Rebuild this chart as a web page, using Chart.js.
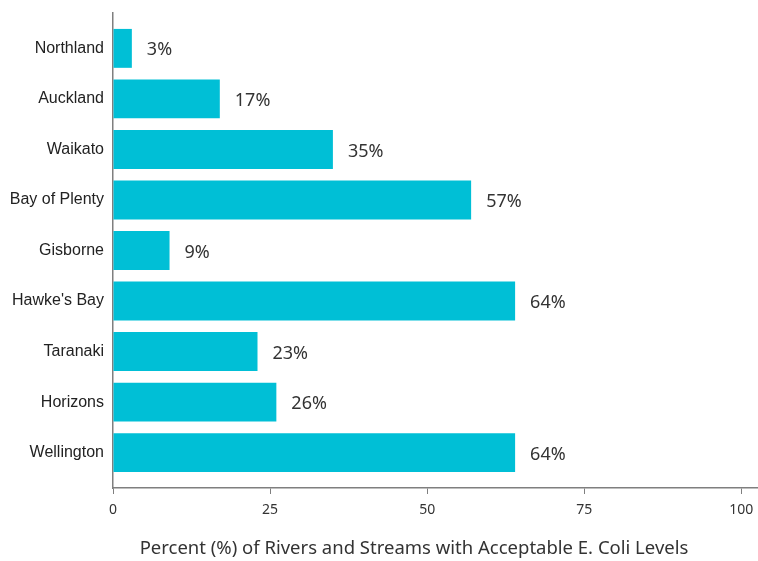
<!DOCTYPE html>
<html>
<head>
<meta charset="utf-8">
<script src="https://cdn.jsdelivr.net/npm/chart.js"></script>
<style>
  html, body { margin: 0; padding: 0; background: #fff; }
  #wrap { width: 758px; height: 561px; }
</style>
</head>
<body>
<div id="wrap"><canvas id="chartCanvas" width="758" height="561"></canvas></div>
<script>
// Regionen und Anteil der Flüsse/Bäche mit akzeptablen E.-Coli-Werten
const regions = ['Northland', 'Auckland', 'Waikato', 'Bay of Plenty', 'Gisborne',
    "Hawke's Bay", 'Taranaki', 'Horizons', 'Wellington'];
const percentValues = [3, 17, 35, 57, 9, 64, 23, 26, 64];
const xTickValues = [0, 25, 50, 75, 100];
const xTitle = 'Percent (%) of Rivers and Streams with Acceptable E. Coli Levels';

const FONT = "'Noto Sans', 'Open Sans', sans-serif";
const LABEL_FONT = "'Liberation Sans', Arial, sans-serif";
const AXIS_COLOR = '#7f7f7f';

// Prozentwerte rechts neben die Balken schreiben
const valueLabels = {
    id: 'valueLabels',
    afterDatasetsDraw(chart) {
        const ctx = chart.ctx;
        const meta = chart.getDatasetMeta(0);
        ctx.save();
        ctx.font = '18px ' + FONT;
        ctx.fillStyle = '#333';
        ctx.textAlign = 'left';
        ctx.textBaseline = 'middle';
        meta.data.forEach((bar, i) => {
            ctx.fillText(percentValues[i] + '%', bar.x + 15, bar.y + 2);
        });
        ctx.restore();
    }
};

// Achsentitel unter der x-Achse
const axisTitle = {
    id: 'axisTitle',
    afterDraw(chart) {
        const ctx = chart.ctx;
        ctx.save();
        ctx.font = '18.5px ' + FONT;
        ctx.fillStyle = '#333';
        ctx.textAlign = 'center';
        ctx.textBaseline = 'middle';
        ctx.fillText(xTitle, 414, 549);
        ctx.restore();
    }
};

const ctx = document.getElementById('chartCanvas').getContext('2d');
new Chart(ctx, {
    type: 'bar',
    data: {
        datasets: [{
            data: percentValues.map((v, i) => ({ x: v, y: i })),
            backgroundColor: '#00BFD6',
            borderWidth: 0,
            barPercentage: 0.77,
            categoryPercentage: 1
        }]
    },
    options: {
        indexAxis: 'y',
        responsive: false,
        animation: false,
        layout: { padding: { top: 13, right: 1, left: 0, bottom: 0 } },
        plugins: {
            legend: { display: false },
            tooltip: { enabled: false }
        },
        scales: {
            x: {
                type: 'linear',
                bounds: 'data',
                min: 0,
                max: 102.5,
                afterFit(scale) {
                    scale.height = 73;
                    scale.paddingLeft = 0;
                    scale.paddingRight = 0;
                },
                afterBuildTicks(scale) {
                    scale.ticks = xTickValues.map(v => ({ value: v }));
                },
                ticks: {
                    color: '#333',
                    padding: 8,
                    font: { family: FONT, size: 14 }
                },
                grid: {
                    drawOnChartArea: false,
                    tickLength: 6,
                    color: AXIS_COLOR
                },
                border: { color: AXIS_COLOR, width: 1.5 }
            },
            y: {
                type: 'linear',
                bounds: 'data',
                offset: false,
                reverse: true,
                min: -0.7,
                max: 8.7,
                afterFit(scale) {
                    scale.width = 113;
                    scale.paddingTop = 0;
                    scale.paddingBottom = 0;
                },
                afterBuildTicks(scale) {
                    scale.ticks = regions.map((r, i) => ({ value: i }));
                },
                ticks: {
                    color: '#222',
                    padding: 1,
                    font: { family: LABEL_FONT, size: 16 },
                    callback: v => regions[v]
                },
                grid: { display: false, offset: false },
                border: { color: AXIS_COLOR, width: 1.5 }
            }
        }
    },
    plugins: [valueLabels, axisTitle]
});
</script>
</body>
</html>
